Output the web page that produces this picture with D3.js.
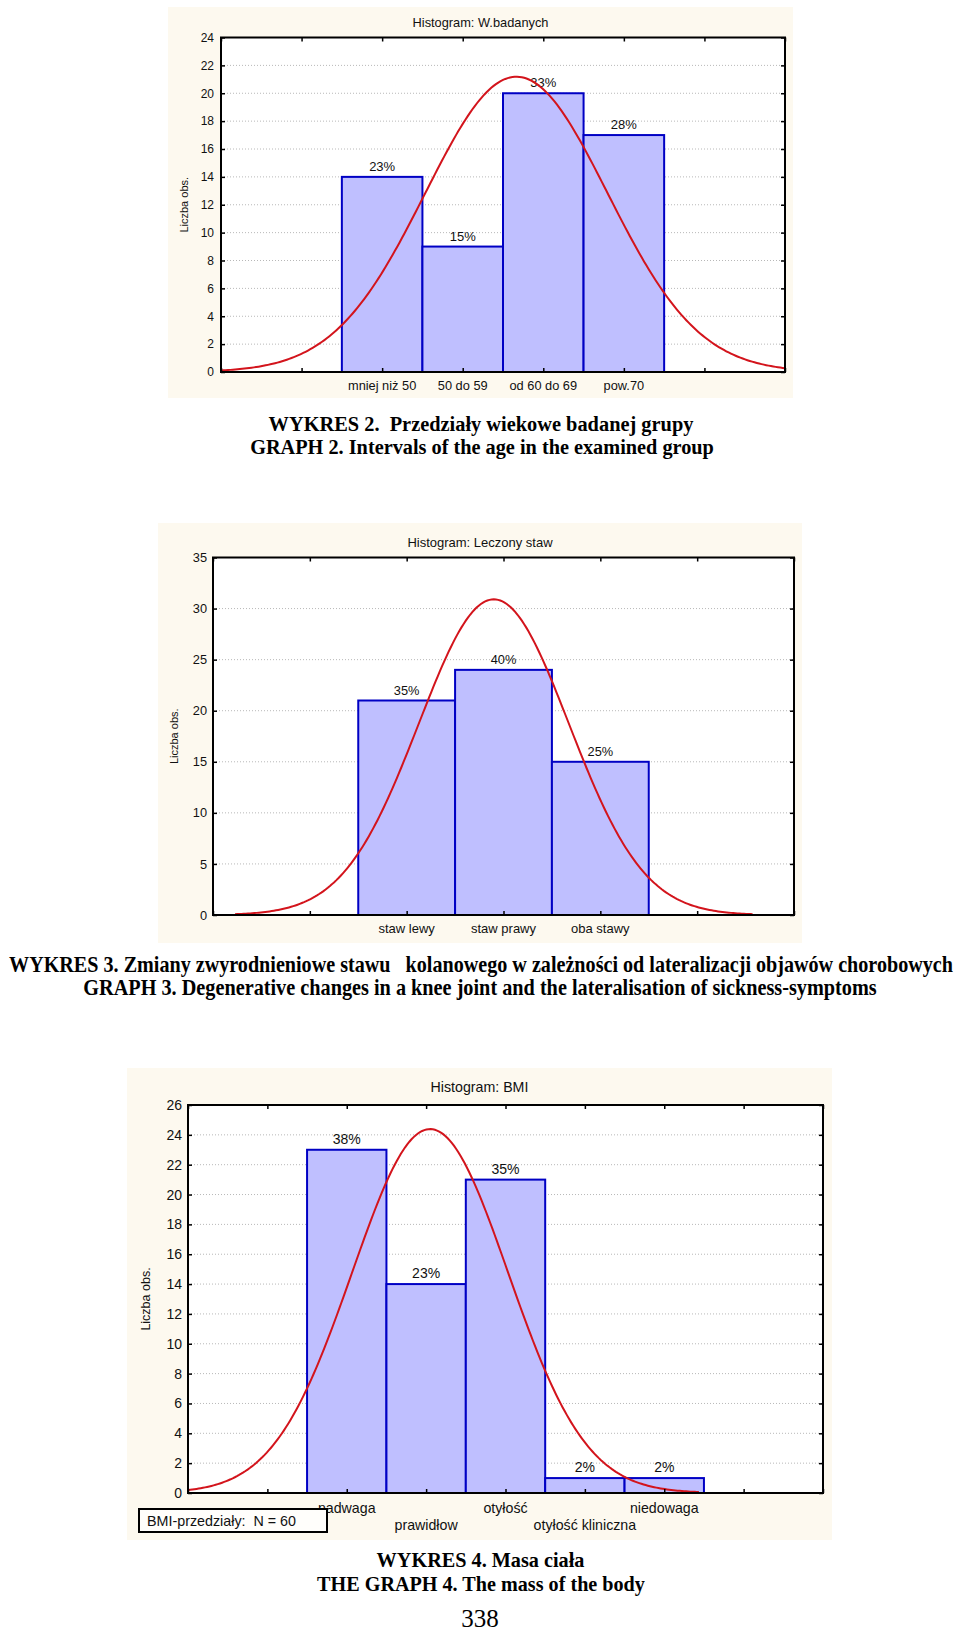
<!DOCTYPE html>
<html>
<head>
<meta charset="utf-8">
<script src="https://cdn.jsdelivr.net/npm/d3@7"></script>
<style>
  html, body { margin: 0; padding: 0; background: #ffffff; }
  svg { display: block; }
</style>
</head>
<body>
<svg id="chart" width="960" height="1631"></svg>
<script>
// ---------------- DATA ----------------
// Chart 1: age intervals
const ageTitle = "Histogram: W.badanych";
const ageCategories = ["mniej niż 50", "50 do 59", "od 60 do 69", "pow.70"];
const ageCounts = [14, 9, 20, 17];
const agePercentLabels = ["23%", "15%", "33%", "28%"];
const ageYTicks = [0, 2, 4, 6, 8, 10, 12, 14, 16, 18, 20, 22, 24];

// Chart 2: treated joint
const jointTitle = "Histogram: Leczony staw";
const jointCategories = ["staw lewy", "staw prawy", "oba stawy"];
const jointCounts = [21, 24, 15];
const jointPercentLabels = ["35%", "40%", "25%"];
const jointYTicks = [0, 5, 10, 15, 20, 25, 30, 35];

// Chart 3: BMI
const bmiTitle = "Histogram: BMI";
const bmiCategories = ["nadwaga", "prawidłow", "otyłość", "otyłość kliniczna", "niedowaga"];
const bmiCounts = [23, 14, 21, 1, 1];
const bmiPercentLabels = ["38%", "23%", "35%", "2%", "2%"];
const bmiYTicks = [0, 2, 4, 6, 8, 10, 12, 14, 16, 18, 20, 22, 24, 26];
const bmiLegendText = "BMI-przedziały:  N = 60";

const yAxisTitle = "Liczba obs.";

// Captions
const caption2Lines = ["WYKRES 2.  Przedziały wiekowe badanej grupy", "GRAPH 2. Intervals of the age in the examined group"];
const caption3Lines = ["WYKRES 3. Zmiany zwyrodnieniowe stawu   kolanowego w zależności od lateralizacji objawów chorobowych",
                       "GRAPH 3. Degenerative changes in a knee joint and the lateralisation of sickness-symptoms"];
const caption4Lines = ["WYKRES 4. Masa ciała", "THE GRAPH 4. The mass of the body"];
const pageNumber = "338";

// ---------------- STYLE ----------------
const PANEL_BG = "#fdf9ef";
const BAR_FILL = "#bfbfff";
const BAR_STROKE = "#0000c4";
const CURVE = "#d3141c";
const GRID = "#b8b8b8";
const SANS = "'Liberation Sans', Arial, sans-serif";
const SERIF = "'Liberation Serif', 'Times New Roman', serif";

const svg = d3.select("#chart");

function drawHistogram(cfg) {
  const g = svg.append("g");
  const n = cfg.categories.length;
  // Statistica-style: two empty classes on each side
  const xMax = n + 3;
  const x = d3.scaleLinear().domain([0, xMax]).range([cfg.plot.l, cfg.plot.r]);
  const yMax = cfg.yTicks[cfg.yTicks.length - 1];
  const y = d3.scaleLinear().domain([0, yMax]).range([cfg.plot.b, cfg.plot.t]);
  const pos = i => i + 2;

  // panel
  g.append("rect")
    .attr("x", cfg.panel.x).attr("y", cfg.panel.y)
    .attr("width", cfg.panel.w).attr("height", cfg.panel.h)
    .attr("fill", PANEL_BG);
  // plot area background
  g.append("rect")
    .attr("x", cfg.plot.l).attr("y", cfg.plot.t)
    .attr("width", cfg.plot.r - cfg.plot.l).attr("height", cfg.plot.b - cfg.plot.t)
    .attr("fill", "#ffffff");

  // gridlines
  g.append("g").selectAll("line")
    .data(cfg.yTicks.filter(v => v > 0 && v < yMax))
    .join("line")
    .attr("x1", cfg.plot.l).attr("x2", cfg.plot.r)
    .attr("y1", d => y(d)).attr("y2", d => y(d))
    .attr("stroke", GRID).attr("stroke-width", 1)
    .attr("stroke-dasharray", "1,2");

  // bars
  g.append("g").selectAll("rect")
    .data(cfg.counts)
    .join("rect")
    .attr("x", (d, i) => x(pos(i) - 0.5))
    .attr("width", (d, i) => x(pos(i) + 0.5) - x(pos(i) - 0.5))
    .attr("y", d => y(d))
    .attr("height", d => y(0) - y(d))
    .attr("fill", BAR_FILL)
    .attr("stroke", BAR_STROKE)
    .attr("stroke-width", 2);

  // percent labels
  g.append("g").selectAll("text")
    .data(cfg.counts)
    .join("text")
    .attr("x", (d, i) => x(pos(i)))
    .attr("y", d => y(d) - 6)
    .attr("text-anchor", "middle")
    .attr("font-family", SANS)
    .attr("font-size", cfg.font.pct)
    .attr("fill", "#111")
    .text((d, i) => cfg.percents[i]);

  // normal fit (mean / sd of the class codes weighted by the counts)
  const N = d3.sum(cfg.counts);
  const mean = d3.sum(cfg.counts, (c, i) => c * pos(i)) / N;
  const sd = Math.sqrt(d3.sum(cfg.counts, (c, i) => c * (pos(i) - mean) ** 2) / (N - 1));
  const x0 = Math.max(0, mean - 3.45 * sd), x1 = Math.min(xMax, mean + 3.45 * sd);
  const xs = d3.range(0, 241).map(k => x0 + (x1 - x0) * k / 240);
  const dens = v => N / (sd * Math.sqrt(2 * Math.PI)) * Math.exp(-0.5 * ((v - mean) / sd) ** 2);
  g.append("path")
    .datum(xs)
    .attr("d", d3.line().x(v => x(v)).y(v => y(dens(v))))
    .attr("fill", "none")
    .attr("stroke", CURVE)
    .attr("stroke-width", 2);

  // axes (frame with inward ticks)
  const tickVals = d3.range(0, xMax + 1);
  g.append("g").attr("transform", `translate(0,${cfg.plot.b})`)
    .call(d3.axisBottom(x).tickValues(tickVals).tickSize(-4).tickFormat(""))
    .call(a => a.select(".domain").remove());
  g.append("g").attr("transform", `translate(0,${cfg.plot.t})`)
    .call(d3.axisTop(x).tickValues(tickVals).tickSize(-4).tickFormat(""))
    .call(a => a.select(".domain").remove());
  const leftAxis = g.append("g").attr("transform", `translate(${cfg.plot.l},0)`)
    .call(d3.axisLeft(y).tickValues(cfg.yTicks).tickSize(-4).tickPadding(cfg.tickPad).tickFormat(d3.format("d")));
  leftAxis.select(".domain").remove();
  leftAxis.selectAll("text").attr("font-family", SANS).attr("font-size", cfg.font.tick).attr("fill", "#111");
  g.append("g").attr("transform", `translate(${cfg.plot.r},0)`)
    .call(d3.axisRight(y).tickValues(cfg.yTicks).tickSize(-4).tickFormat(""))
    .call(a => a.select(".domain").remove());
  g.selectAll(".tick line").attr("stroke", "#000").attr("stroke-width", 1.5);
  g.append("rect")
    .attr("x", cfg.plot.l).attr("y", cfg.plot.t)
    .attr("width", cfg.plot.r - cfg.plot.l).attr("height", cfg.plot.b - cfg.plot.t)
    .attr("fill", "none").attr("stroke", "#000").attr("stroke-width", 2);

  // category labels
  g.append("g").selectAll("text")
    .data(cfg.categories)
    .join("text")
    .attr("x", (d, i) => x(pos(i)))
    .attr("y", (d, i) => cfg.catY[i % cfg.catY.length])
    .attr("dy", "0.35em")
    .attr("text-anchor", "middle")
    .attr("font-family", SANS)
    .attr("font-size", cfg.font.cat)
    .attr("fill", "#111")
    .text(d => d);

  // title
  g.append("text")
    .attr("x", cfg.panel.x + cfg.panel.w / 2).attr("y", cfg.titleY)
    .attr("dy", "0.35em")
    .attr("text-anchor", "middle")
    .attr("font-family", SANS).attr("font-size", cfg.font.title)
    .attr("fill", "#111")
    .text(cfg.title);

  // y axis title
  g.append("text")
    .attr("transform", `translate(${cfg.yTitleX},${(cfg.plot.t + cfg.plot.b) / 2}) rotate(-90)`)
    .attr("dy", "0.35em")
    .attr("text-anchor", "middle")
    .attr("font-family", SANS).attr("font-size", cfg.font.ytitle)
    .attr("fill", "#111")
    .text(yAxisTitle);
  return g;
}

drawHistogram({
  title: ageTitle, categories: ageCategories, counts: ageCounts, percents: agePercentLabels, yTicks: ageYTicks,
  panel: {x: 168, y: 7, w: 625, h: 391},
  plot: {l: 221, r: 785, t: 37.5, b: 372},
  titleY: 22.5, catY: [386], yTitleX: 184, tickPad: 7,
  font: {title: 12.8, tick: 12, cat: 12.8, pct: 13, ytitle: 11}
});

drawHistogram({
  title: jointTitle, categories: jointCategories, counts: jointCounts, percents: jointPercentLabels, yTicks: jointYTicks,
  panel: {x: 158, y: 523, w: 644, h: 420},
  plot: {l: 213, r: 794, t: 557.5, b: 915},
  titleY: 542, catY: [928], yTitleX: 174, tickPad: 6,
  font: {title: 13, tick: 12.8, cat: 13, pct: 12.8, ytitle: 11}
});

drawHistogram({
  title: bmiTitle, categories: bmiCategories, counts: bmiCounts, percents: bmiPercentLabels, yTicks: bmiYTicks,
  panel: {x: 127, y: 1068, w: 705, h: 472},
  plot: {l: 188, r: 823, t: 1105, b: 1493},
  titleY: 1087, catY: [1508, 1525], yTitleX: 146, tickPad: 6,
  font: {title: 14.2, tick: 14, cat: 14.2, pct: 14, ytitle: 12.5}
});

// BMI legend box
svg.append("rect")
  .attr("x", 139).attr("y", 1509).attr("width", 188).attr("height", 23)
  .attr("fill", "#fffefb").attr("stroke", "#000").attr("stroke-width", 2);
svg.append("text")
  .attr("x", 147).attr("y", 1521).attr("dy", "0.35em")
  .attr("font-family", SANS).attr("font-size", 14.3).attr("fill", "#111")
  .attr("xml:space", "preserve").style("white-space", "pre")
  .text(bmiLegendText);

// captions: natural text, then squeezed horizontally to the width seen in the scan
function caption(lines, specs, size, weight) {
  lines.forEach((t, i) => {
    const s = specs[i];
    const txt = svg.append("text")
      .attr("x", 0).attr("y", 0).attr("dy", "0.35em")
      .attr("text-anchor", "middle")
      .attr("font-family", SERIF).attr("font-size", size).attr("font-weight", weight)
      .style("white-space", "pre")
      .attr("fill", "#000")
      .text(t);
    const natural = txt.node().getComputedTextLength();
    const k = s.w / natural;
    txt.attr("transform", `translate(${s.cx},${s.cy}) scale(${k},1)`);
  });
}
caption(caption2Lines, [{cx: 481, cy: 423, w: 425}, {cx: 482, cy: 446, w: 464}], 21.5, "bold");
caption(caption3Lines, [{cx: 481, cy: 964, w: 944}, {cx: 480, cy: 987, w: 794}], 23, "bold");
caption(caption4Lines, [{cx: 480.5, cy: 1560, w: 208}, {cx: 481, cy: 1584, w: 328}], 21, "bold");
svg.append("text")
  .attr("x", 480).attr("y", 1618).attr("dy", "0.35em")
  .attr("text-anchor", "middle")
  .attr("font-family", SERIF).attr("font-size", 25)
  .attr("fill", "#000")
  .text(pageNumber);
</script>
</body>
</html>
